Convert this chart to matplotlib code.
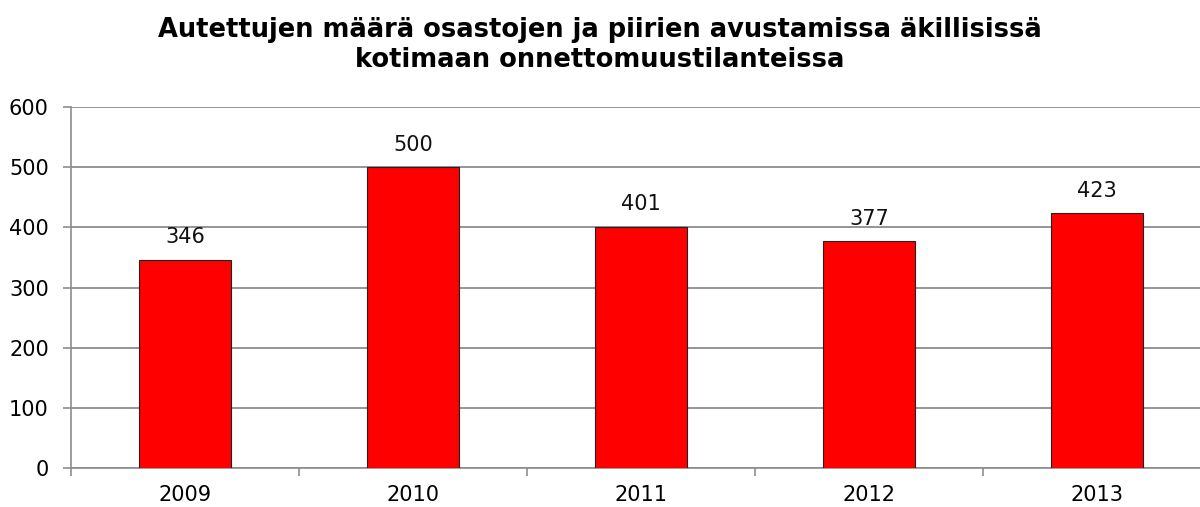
import numpy as np
import matplotlib.pyplot as plt

years = ['2009', '2010', '2011', '2012', '2013']
counts = [346, 500, 401, 377, 423]
y_ticks = [0, 100, 200, 300, 400, 500, 600]

title = 'Autettujen määrä osastojen ja piirien avustamissa äkillisissä\nkotimaan onnettomuustilanteissa'

plt.rcParams['font.family'] = ['Verdana', 'DejaVu Sans']

fig = plt.figure(figsize=(12, 5.07), dpi=100)
ax = fig.add_axes([71 / 1200, 1 - 468 / 507, 1140 / 1200, 361 / 507])

x = np.arange(len(years))
bars = ax.bar(x, counts, width=0.40, color='#ff0000', edgecolor='#222222', linewidth=0.8, zorder=3)

for xi, v in zip(x, counts):
    ax.annotate(str(v), (xi, v), xytext=(0, 9), textcoords='offset points',
                ha='center', va='bottom', fontsize=15, color='#111111')

ax.set_xlim(-0.5, len(years) - 0.5)
ax.set_ylim(0, 600)
ax.set_yticks(y_ticks)
ax.yaxis.grid(True, color='#8c8c8c', linewidth=1.3, zorder=0)
ax.set_axisbelow(True)

# category ticks between bars, labels centered under bars
ax.set_xticks(x)
ax.set_xticklabels(years)
ax.set_xticks(np.arange(-0.5, len(years)), minor=True)
ax.tick_params(axis='x', which='major', length=0, pad=12, labelsize=15)
ax.tick_params(axis='x', which='minor', length=6, color='#8c8c8c', width=1.2)
ax.tick_params(axis='y', length=6, color='#8c8c8c', width=1.2, pad=10, labelsize=15)

for side in ['top', 'right']:
    ax.spines[side].set_visible(False)
for side in ['left', 'bottom']:
    ax.spines[side].set_color('#8c8c8c')
    ax.spines[side].set_linewidth(1.2)

fig.text(0.5, 1 - 45 / 507, title, ha='center', va='center', fontsize=18.5,
         fontweight='bold', linespacing=1.2)

fig.savefig('out.png', dpi=100)
